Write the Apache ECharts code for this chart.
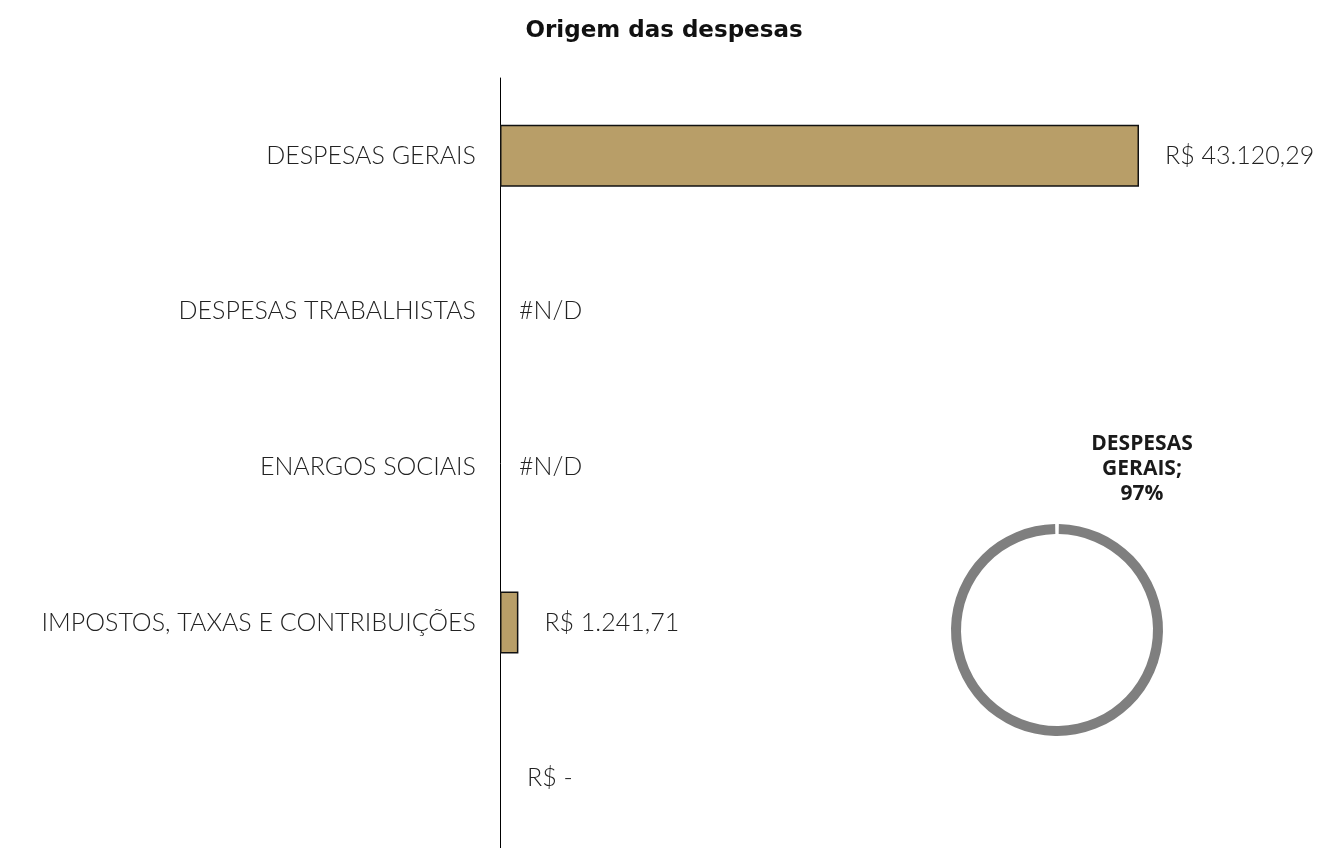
<!DOCTYPE html>
<html>
<head>
<meta charset="utf-8">
<title>Origem das despesas</title>
<script src="https://cdn.jsdelivr.net/npm/echarts@6/dist/echarts.min.js"></script>
<style>
    html, body { margin: 0; padding: 0; background: #fff; }
    #chart { width: 1327px; height: 848px; }
</style>
</head>
<body>
<div id="chart"></div>
<script>
// categorias do gráfico de barras
var categorias = ["DESPESAS GERAIS", "DESPESAS TRABALHISTAS", "ENARGOS SOCIAIS", "IMPOSTOS, TAXAS E CONTRIBUIÇÕES", ""];
// valores (null = #N/D)
var valores = [43120.29, null, null, 1241.71, 0];
// rótulos exibidos ao lado das barras
var rotulos = ["R$ 43.120,29", "#N/D", "#N/D", "R$ 1.241,71", "R$ -"];
// rosca
var roscaNomes = ["DESPESAS GERAIS"];
var roscaPercentuais = [97];

var fonteClara = "Lato, 'Open Sans', sans-serif";

var myChart = echarts.init(document.getElementById("chart"));

// monta os itens da série de barras
var barData = valores.map(function (v, i) {
    var item = {
        value: v === null ? 0 : v,
        label: { formatter: rotulos[i] }
    };
    if (v === null) {
        item.label.distance = 19;
        item.itemStyle = { borderWidth: 0 };
    } else if (v === 0) {
        item.label.distance = 27;
        item.itemStyle = { borderWidth: 0 };
    }
    return item;
});

var option = {
    animation: false,
    backgroundColor: "#ffffff",
    title: {
        text: "Origem das despesas",
        left: 659,
        top: 15,
        textAlign: "center",
        textStyle: {
            fontFamily: "'DejaVu Sans', sans-serif",
            fontWeight: "bold",
            fontSize: 23,
            color: "#111"
        }
    },
    grid: {
        left: 500,
        top: 78,
        width: 639,
        height: 778,
        outerBoundsMode: "none"
    },
    xAxis: {
        type: "value",
        min: 0,
        max: 43120.29,
        show: false
    },
    yAxis: {
        type: "category",
        inverse: true,
        data: categorias,
        axisLine: { show: true, lineStyle: { color: "#000", width: 1 } },
        axisTick: { show: false },
        axisLabel: {
            margin: 24,
            fontFamily: fonteClara,
            fontWeight: 300,
            fontSize: 25,
            color: "#222"
        }
    },
    series: [
        {
            type: "bar",
            data: barData,
            barWidth: 62,
            itemStyle: {
                color: "#B89E68",
                borderColor: "#111",
                borderWidth: 1.5
            },
            label: {
                show: true,
                position: "right",
                distance: 26,
                fontFamily: fonteClara,
                fontWeight: 300,
                fontSize: 25,
                color: "#222"
            }
        },
        {
            type: "pie",
            center: [1057, 630],
            radius: [96, 106],
            startAngle: 89,
            endAngle: -269,
            silent: true,
            data: roscaNomes.map(function (n, i) {
                return { name: n, value: roscaPercentuais[i] };
            }),
            itemStyle: { color: "#7f7f7f" },
            labelLine: { show: false },
            label: {
                show: true,
                position: "outside",
                formatter: "DESPESAS\nGERAIS;\n{c}%",
                fontFamily: "'Open Sans', sans-serif",
                fontWeight: "bold",
                fontSize: 21,
                lineHeight: 25,
                align: "center",
                color: "#1a1a1a"
            },
            labelLayout: {
                x: 1142,
                y: 469,
                align: "center",
                verticalAlign: "middle"
            }
        }
    ]
};

myChart.setOption(option);
</script>
</body>
</html>
